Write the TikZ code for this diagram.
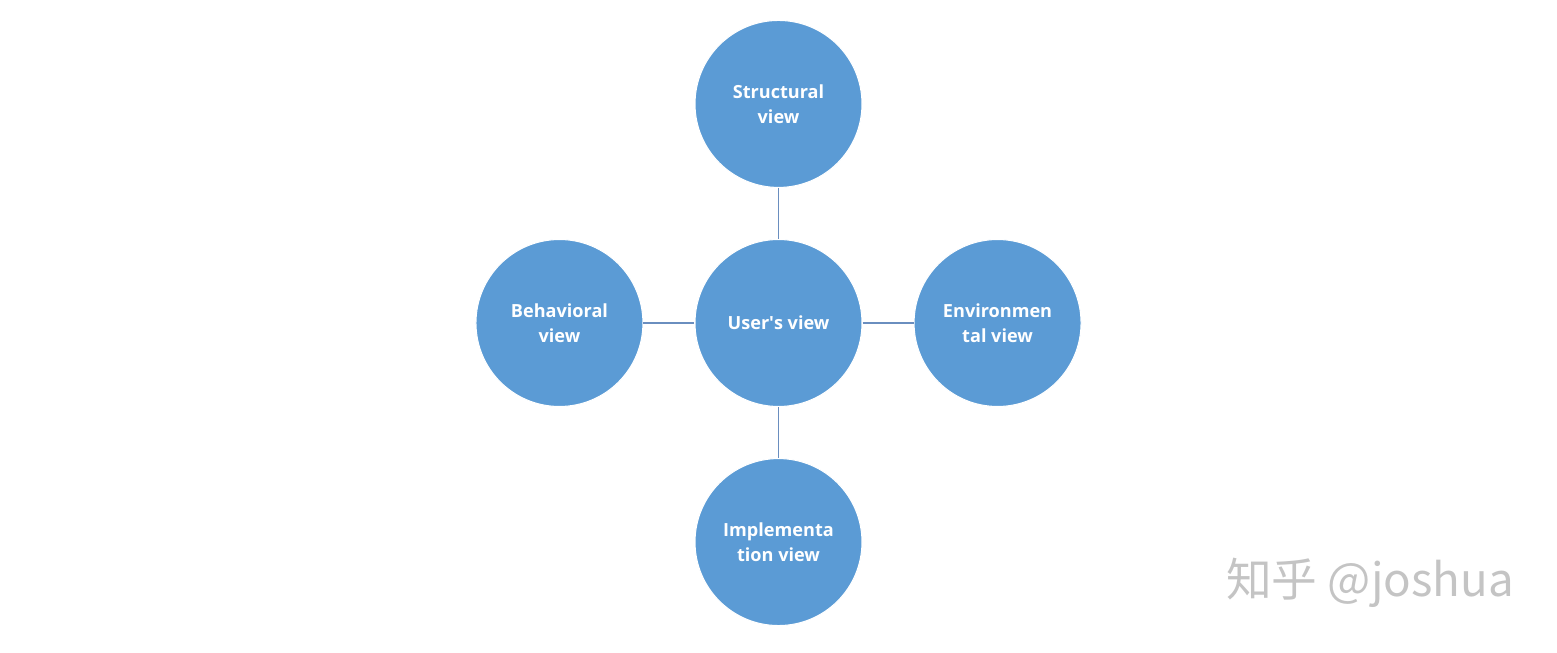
\documentclass[tikz,border=0pt]{standalone}
\usepackage{fontspec}
\setmainfont{Open Sans}
\newfontfamily\cjkfont{Noto Sans CJK SC}
\usepackage{tikz}
\usetikzlibrary{positioning}
\definecolor{viewblue}{HTML}{5B9BD5}
\definecolor{linkblue}{HTML}{6A8EBF}
\definecolor{markgray}{HTML}{C4C4C4}

\begin{document}
\begin{tikzpicture}[
    view/.style={circle, fill=viewblue, draw=white, line width=0.6pt, minimum size=3.34cm, inner sep=0pt, text=white, align=center, font=\fontsize{10.3}{14.2}\selectfont\bfseries},
    link/.style={draw=linkblue, line width=0.9pt},
    node distance=1.02cm
]
\useasboundingbox (0,0) rectangle (31.14,-13.06);

\node[view] (user) at (15.57,-6.46) {User\textquotesingle s view};
\node[view, above=of user] (struct) {Structural\\view};
\node[view, left=of user] (behav) {Behavioral\\view};
\node[view, right=of user] (env) {Environmen\\tal view};
\node[view, below=of user] (impl) {Implementa\\tion view};

\draw[link] (struct) -- (user);
\draw[link] (behav) -- (user);
\draw[link] (user) -- (env);
\draw[link] (user) -- (impl);

% watermark
\node[text=markgray, font=\cjkfont\fontsize{26}{30}\selectfont] (mark) at (27.4,-11.66) {知乎 @joshua};

\end{tikzpicture}
\end{document}
